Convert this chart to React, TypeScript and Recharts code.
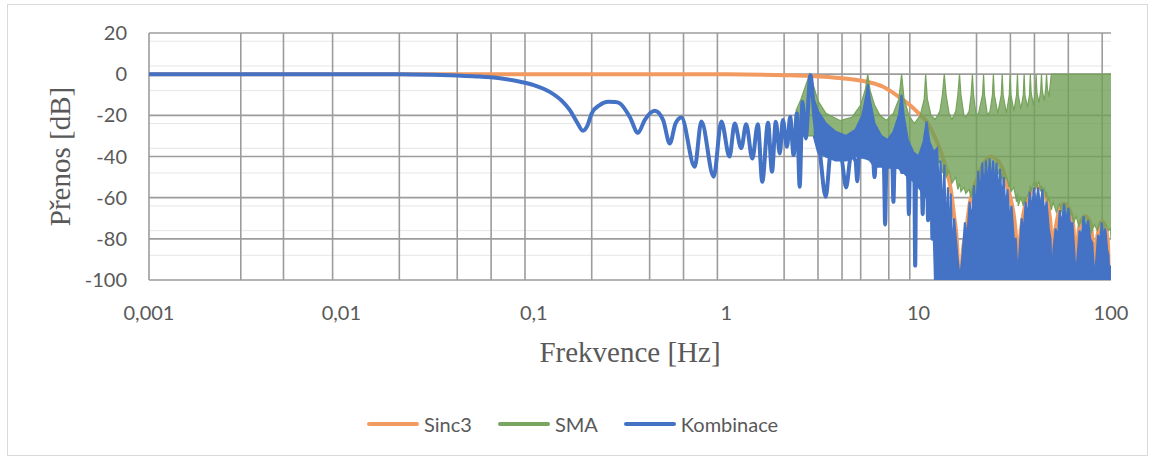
import React from "react";
import {
  ComposedChart,
  Line,
  Area,
  XAxis,
  YAxis,
  CartesianGrid,
  Legend,
} from "recharts";

// ---------- axis ticks ----------
const xTicks = [0.001, 0.01, 0.1, 1, 10, 100];
const xTickLabels = ["0,001", "0,01", "0,1", "1", "10", "100"];
const yTicks = [-100, -80, -60, -40, -20, 0, 20];
const yMinorTicks = [-96, -92, -88, -84, -76, -72, -68, -64, -56, -52, -48, -44, -36, -32, -28, -24, -16, -12, -8, -4, 4, 8, 12, 16];
const xMinorTicks = [
  0.002, 0.003, 0.004, 0.005, 0.006, 0.007, 0.008, 0.009,
  0.02, 0.03, 0.04, 0.05, 0.06, 0.07, 0.08, 0.09,
  0.2, 0.3, 0.4, 0.5, 0.6, 0.7, 0.8, 0.9,
  2, 3, 4, 5, 6, 7, 8, 9,
  20, 30, 40, 50, 60, 70, 80, 90,
];

// ---------- legend ----------
const legendNames = ["Sinc3", "SMA", "Kombinace"];
const legendColors = ["#F29B60", "#78A55F", "#4472C4"];

// ---------- Sinc3 ----------
const sincF = [0.001, 0.3, 1, 2, 2.74, 4, 5.4, 6.5, 7.9, 9, 10, 11, 12.2, 13, 13.9, 14.7, 15.3, 15.9, 16.4, 16.9, 17.6, 18.5, 20, 21.6, 23.8, 26.3, 28, 29, 30.5, 31.5, 32.3, 32.8, 33.4, 34.6, 36, 37.5, 41.5, 45.8, 47.5, 48.6, 49.2, 50.5, 51.7, 54, 57, 62, 64, 65.6, 67, 69, 73, 77, 80, 82, 84, 86, 90, 94, 96.5, 98.4, 99.3, 100];
const sincDb = [0, 0, -0.1, -0.5, -0.9, -2, -3.7, -6, -11, -15, -19, -23, -31, -37, -46, -56, -69, -85, -120, -88, -77, -62, -51.5, -44, -40, -43, -49, -55, -63, -71, -85, -120, -85, -71, -63, -59.5, -54.7, -59.5, -66, -74, -120, -80, -74, -66, -62.8, -67.6, -76, -120, -82, -73, -69, -71, -80, -120, -83, -76, -71.5, -75, -83, -120, -100, -93];

// ---------- SMA (dense band: lower / upper envelope) ----------
const smaF = [2.3, 2.45, 2.6, 2.72, 2.85, 3.0, 3.3, 3.9, 4.5, 5.0, 5.3, 5.44, 5.6, 5.9, 6.3, 6.8, 7.4, 7.9, 8.16, 8.4, 8.9, 9.5, 10.2, 10.7, 10.88, 11.1, 11.6, 12.2, 12.9, 13.3, 13.6, 13.9, 14.4, 14.9, 15.6, 16.0, 16.32, 16.6, 17.2, 17.6, 18.3, 18.75, 19.04, 19.3, 19.9, 20.5, 21.5, 21.76, 22.0, 22.8, 23.5, 24.2, 24.48, 24.75, 25.8, 26.9, 27.2, 27.5, 28.6, 29.6, 29.92, 30.2, 31.3, 32.3, 32.64, 32.95, 34.0, 35.0, 35.36, 35.7, 36.8, 37.7, 38.08, 38.45, 39.5, 40.4, 40.8, 41.2, 42.2, 43.1, 43.52, 43.95, 45.0, 45.8, 46.24, 46.7, 47.6, 48.96, 50, 52, 54, 56, 58, 60, 62, 64, 66, 68, 70, 73, 76, 79, 82, 85, 88, 91, 94, 97, 99.5, 100];
const smaHi = [-18, -12, -5, 0, -6, -13, -19, -22.5, -21, -15, -7, 0, -8, -15, -20, -22.5, -19, -12, 0, -12, -20, -24, -20, -12, 0, -12, -20, -22, -18, -10, 0, -10, -19, -22, -18, -10, 0, -10, -20, -21, -18, -10, 0, -10, -20, -19, -10, 0, -10, -20, -18, -10, 0, -10, -19, -10, 0, -10, -19, -10, 0, -10, -18, -10, 0, -10, -17, -10, 0, -10, -16, -10, 0, -9, -15, -9, 0, -9, -14, -8, 0, -8, -13, -7, 0, -7, -11, 0, 0, 0, 0, 0, 0, 0, 0, 0, 0, 0, 0, 0, 0, 0, 0, 0, 0, 0, 0, 0, 0, 0];
const smaLo = [-30, -30, -30, -30, -30, -35, -35, -35, -35, -35, -35, -35, -35, -35, -35, -35, -35, -35, -38, -38, -38, -40, -40, -40, -40, -42, -40, -45, -42, -48, -44, -50, -47, -53, -50, -56, -53, -57, -55, -58, -56, -60, -57, -62, -59, -61, -52, -55, -49, -51, -47, -50, -46, -49, -47, -51, -48, -52, -50, -55, -52, -57, -55, -62, -58, -64, -60, -64, -60, -63, -59, -57, -54, -57, -53, -56, -52, -55, -52, -57, -54, -58, -55, -60, -57, -62, -60, -66, -62, -67, -63, -68, -65, -71, -67, -72, -69, -74, -71, -76, -72, -77, -73, -76, -72, -77, -73, -76, -75, -80];

// ---------- Kombinace (smooth part + spikes) ----------
const kombF = [0.001, 0.01, 0.02, 0.03, 0.04, 0.05, 0.0665, 0.085, 0.1, 0.121, 0.14, 0.154, 0.168, 0.18, 0.19, 0.2, 0.22, 0.243, 0.265, 0.28, 0.315, 0.348, 0.377, 0.425, 0.47, 0.509, 0.545, 0.585, 0.686, 0.743, 0.861, 0.944, 1.04, 1.107, 1.197, 1.27, 1.367, 1.46, 1.54, 1.65, 1.73, 1.81, 1.9, 1.97, 2.07, 2.15, 2.24, 2.33, 2.41, 2.49, 2.59, 2.74, 2.88, 3.05, 3.29, 3.5, 3.95, 4.2, 4.45, 4.7, 4.8, 4.9, 5.8, 5.9, 6.0, 6.6, 6.7, 6.8, 7.3, 7.4, 7.5, 8.8, 8.9, 9.0, 9.5, 9.6, 9.7, 10.4, 10.5, 10.6, 11.1, 11.2, 11.3, 11.7, 11.8, 11.9, 12.3];
const kombDb = [0, 0, 0, -0.3, -0.7, -1.1, -2, -3.7, -5.3, -8.6, -13, -17.5, -23.5, -27.5, -25, -19, -15, -13.4, -13.5, -14.2, -20.7, -28.5, -22.3, -17.8, -22.3, -33.7, -24, -21, -45, -23, -49.8, -23, -40, -24, -36, -24.3, -41, -24.3, -52.3, -23.6, -47.4, -23.1, -38.5, -22.3, -35.3, -20.7, -39.3, -19, -54.7, -13.4, -31.2, -0.5, -22, -36, -59.6, -38, -40, -55, -40, -42, -52, -40, -42, -50, -42, -45, -73, -45, -45, -62, -45, -48, -68, -50, -50, -93, -52, -55, -68, -55, -58, -71, -58, -62, -80, -65, -100];

// ---------- Kombinace (dense band: lower / upper envelope) ----------
const kombBandF = [2.85, 3.0, 3.3, 3.7, 4.2, 4.7, 5.1, 5.35, 5.45, 5.6, 5.9, 6.4, 6.9, 7.4, 7.9, 8.15, 8.4, 8.8, 9.4, 10.0, 10.6, 11.0, 11.4, 12.0, 12.5, 12.8, 13.0, 13.3, 13.6, 13.9, 14.2, 14.5, 14.7, 15.0, 15.3, 15.9, 16.4, 16.9, 17.4, 17.9, 18.4, 18.9, 19.4, 19.9, 20.4, 20.9, 21.4, 21.9, 22.4, 22.9, 23.4, 23.9, 24.4, 24.9, 25.4, 25.9, 26.5, 27.1, 27.7, 28.3, 29.0, 29.7, 30.4, 31.2, 32.0, 32.8, 33.5, 34.3, 35.1, 36.0, 36.9, 37.8, 38.8, 39.8, 40.8, 41.8, 42.9, 44.0, 45.1, 46.3, 47.5, 48.5, 49.2, 50.2, 51.5, 52.8, 54.2, 55.6, 57.0, 58.5, 60.0, 61.6, 63.0, 64.4, 65.6, 67.0, 68.6, 70.2, 72.0, 74.0, 76.0, 78.0, 80.0, 82.0, 83.8, 85.6, 87.5, 89.5, 91.5, 93.5, 95.5, 97.0, 98.4, 99.2, 100];
const kombBandHi = [-12, -18, -24, -28, -30, -27, -20, -10, -5, -13, -24, -30, -32, -28, -20, -10, -21, -32, -38, -40, -33, -23, -33, -38, -36, -62, -42, -72, -44, -78, -55, -88, -58, -92, -70, -88, -100, -88, -72, -80, -62, -72, -54, -66, -47, -60, -43, -58, -42, -56, -41, -55, -42, -58, -43, -60, -46, -63, -50, -66, -56, -72, -64, -80, -80, -100, -85, -70, -78, -62, -70, -57, -66, -55, -64, -55, -66, -56, -68, -62, -75, -80, -100, -85, -75, -80, -66, -74, -63, -72, -65, -74, -72, -85, -100, -88, -76, -80, -69, -76, -71, -80, -82, -100, -90, -78, -82, -72, -80, -75, -85, -88, -100, -97, -93];
const kombBandLo = [-30, -38, -40, -42, -42, -40, -40, -40, -40, -42, -45, -45, -45, -45, -45, -48, -48, -50, -52, -55, -58, -60, -62, -75, -100, -100, -100, -100, -100, -100, -100, -100, -100, -100, -100, -100, -100, -100, -100, -100, -100, -100, -100, -100, -100, -100, -100, -100, -100, -100, -100, -100, -100, -100, -100, -100, -100, -100, -100, -100, -100, -100, -100, -100, -100, -100, -100, -100, -100, -100, -100, -100, -100, -100, -100, -100, -100, -100, -100, -100, -100, -100, -100, -100, -100, -100, -100, -100, -100, -100, -100, -100, -100, -100, -100, -100, -100, -100, -100, -100, -100, -100, -100, -100, -100, -100, -100, -100, -100, -100, -100, -100, -100, -100, -100];

const sincData = sincF.map((f, i) => ({ f, v: sincDb[i] }));
const smaData = smaF.map((f, i) => ({ f, r: [smaLo[i], smaHi[i]] }));
const kombData = kombF.map((f, i) => ({ f, v: kombDb[i] }));
const kombBandData = kombBandF.map((f, i) => ({ f, r: [kombBandLo[i], kombBandHi[i]] }));

const tickStyle = { fill: "#595959", fontFamily: "Lato, 'Open Sans', sans-serif", fontSize: 20 };
const titleFont = "'Liberation Serif', 'Times New Roman', serif";

const YTitle = (props: any) => {
  const vb = props.viewBox || { x: 0, y: 33, width: 149, height: 247 };
  const cx = vb.x + 60;
  const cy = vb.y + vb.height / 2;
  return (
    <text x={cx} y={cy} transform={`rotate(-90 ${cx} ${cy})`} textAnchor="middle" dominantBaseline="central" fill="#595959" fontFamily={titleFont} fontSize={29}>
      Přenos [dB]
    </text>
  );
};

const XTitle = (props: any) => {
  const vb = props.viewBox || { x: 149, y: 280, width: 962, height: 179 };
  const cx = vb.x + vb.width / 2;
  const cy = vb.y + 72;
  return (
    <text x={cx} y={cy} textAnchor="middle" dominantBaseline="central" fill="#595959" fontFamily={titleFont} fontSize={29}>
      Frekvence [Hz]
    </text>
  );
};

const LegendContent = () => (
  <div style={{ display: "flex", alignItems: "center", fontFamily: "Lato, 'Open Sans', sans-serif", fontSize: 20, color: "#595959" }}>
    {legendNames.map((name, i) => (
      <div key={name} style={{ display: "flex", alignItems: "center", marginRight: 26 }}>
        <div style={{ width: 52, height: 4, borderRadius: 2, background: legendColors[i], marginRight: 5 }} />
        <span>{name}</span>
      </div>
    ))}
  </div>
);

export default function App() {
  return (
    <div style={{ position: "absolute", left: 0, top: 0, width: 1155, height: 459, background: "#fff" }}>
      <div style={{ position: "absolute", left: 7, top: 4, width: 1139, height: 450, border: "1px solid #D9D9D9" }} />
      <div style={{ position: "absolute", left: 0, top: 0 }}>
        <ComposedChart width={1155} height={459} margin={{ top: 33, right: 44, bottom: 0, left: 0 }}>
          <CartesianGrid stroke="#E6E6E6" strokeWidth={1} vertical={false} horizontalValues={yMinorTicks} />
          <CartesianGrid stroke="#9C9C9C" strokeWidth={1.6} horizontalValues={yTicks} verticalValues={[...xTicks, ...xMinorTicks]} />
          <XAxis
            dataKey="f"
            type="number"
            scale="log"
            domain={[0.001, 100]}
            ticks={xTicks}
            allowDataOverflow
            axisLine={false}
            tickLine={false}
            tickSize={0}
            tickMargin={26}
            height={179}
            tick={tickStyle}
            tickFormatter={(v: number) => xTickLabels[xTicks.indexOf(v)] ?? String(v)}
            label={XTitle}
          />
          <YAxis
            type="number"
            domain={[-100, 20]}
            ticks={yTicks}
            allowDataOverflow
            axisLine={false}
            tickLine={false}
            tickSize={0}
            tickMargin={22}
            width={149}
            tick={tickStyle}
            label={YTitle}
          />
          <Line data={sincData} dataKey="v" name="Sinc3" type="monotone" stroke="#F29B60" strokeWidth={4} dot={false} isAnimationActive={false} zIndex={90} />
          <Area data={smaData} dataKey="r" name="SMA" type="linear" stroke="#76A35B" strokeWidth={1.2} fill="#72A056" fillOpacity={0.8} isAnimationActive={false} zIndex={100} />
          <Area data={kombBandData} dataKey="r" name="KombinaceBand" type="linear" stroke="#4472C4" strokeWidth={2} fill="#4472C4" fillOpacity={1} isAnimationActive={false} zIndex={110} legendType="none" />
          <Line data={kombData} dataKey="v" name="Kombinace" type="monotone" stroke="#4472C4" strokeWidth={4} dot={false} isAnimationActive={false} zIndex={120} />
          <Legend
            layout="horizontal"
            align="center"
            verticalAlign="middle"
            wrapperStyle={{ position: "absolute", top: 412, left: 367, width: 520, height: 26 }}
            content={LegendContent}
          />
        </ComposedChart>
      </div>
    </div>
  );
}
